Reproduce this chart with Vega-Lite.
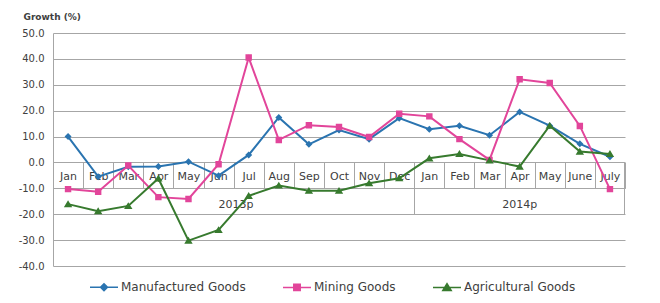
{
  "$schema": "https://vega.github.io/schema/vega-lite/v6.json",
  "width": 572,
  "height": 233,
  "autosize": "none",
  "padding": {"left": 53, "top": 33, "right": 35, "bottom": 37},
  "background": "white",
  "config": {
    "font": "DejaVu Sans",
    "view": {"stroke": null},
    "axis": {
      "labelFont": "DejaVu Sans",
      "labelColor": "#404040",
      "gridColor": "#a6a6a6",
      "domainColor": "#a6a6a6",
      "tickColor": "#a6a6a6"
    },
    "legend": {"labelFont": "DejaVu Sans"}
  },
  "data": {
    "values": [
      {"period": "2013-01", "series": "Manufactured Goods", "value": 10.0},
      {"period": "2013-02", "series": "Manufactured Goods", "value": -5.5},
      {"period": "2013-03", "series": "Manufactured Goods", "value": -1.7},
      {"period": "2013-04", "series": "Manufactured Goods", "value": -1.6},
      {"period": "2013-05", "series": "Manufactured Goods", "value": 0.3},
      {"period": "2013-06", "series": "Manufactured Goods", "value": -5.1},
      {"period": "2013-07", "series": "Manufactured Goods", "value": 2.9},
      {"period": "2013-08", "series": "Manufactured Goods", "value": 17.4},
      {"period": "2013-09", "series": "Manufactured Goods", "value": 7.0},
      {"period": "2013-10", "series": "Manufactured Goods", "value": 12.5},
      {"period": "2013-11", "series": "Manufactured Goods", "value": 9.0},
      {"period": "2013-12", "series": "Manufactured Goods", "value": 17.1},
      {"period": "2014-01", "series": "Manufactured Goods", "value": 12.8},
      {"period": "2014-02", "series": "Manufactured Goods", "value": 14.2},
      {"period": "2014-03", "series": "Manufactured Goods", "value": 10.5},
      {"period": "2014-04", "series": "Manufactured Goods", "value": 19.5},
      {"period": "2014-05", "series": "Manufactured Goods", "value": 14.2},
      {"period": "2014-06", "series": "Manufactured Goods", "value": 7.2},
      {"period": "2014-07", "series": "Manufactured Goods", "value": 2.2},
      {"period": "2013-01", "series": "Mining Goods", "value": -10.3},
      {"period": "2013-02", "series": "Mining Goods", "value": -11.3},
      {"period": "2013-03", "series": "Mining Goods", "value": -1.2},
      {"period": "2013-04", "series": "Mining Goods", "value": -13.4},
      {"period": "2013-05", "series": "Mining Goods", "value": -14.1},
      {"period": "2013-06", "series": "Mining Goods", "value": -0.7},
      {"period": "2013-07", "series": "Mining Goods", "value": 40.5},
      {"period": "2013-08", "series": "Mining Goods", "value": 8.7},
      {"period": "2013-09", "series": "Mining Goods", "value": 14.4},
      {"period": "2013-10", "series": "Mining Goods", "value": 13.7},
      {"period": "2013-11", "series": "Mining Goods", "value": 9.8},
      {"period": "2013-12", "series": "Mining Goods", "value": 18.8},
      {"period": "2014-01", "series": "Mining Goods", "value": 17.8},
      {"period": "2014-02", "series": "Mining Goods", "value": 9.0},
      {"period": "2014-03", "series": "Mining Goods", "value": 1.0},
      {"period": "2014-04", "series": "Mining Goods", "value": 32.1},
      {"period": "2014-05", "series": "Mining Goods", "value": 30.7},
      {"period": "2014-06", "series": "Mining Goods", "value": 14.1},
      {"period": "2014-07", "series": "Mining Goods", "value": -10.3},
      {"period": "2013-01", "series": "Agricultural Goods", "value": -16.1},
      {"period": "2013-02", "series": "Agricultural Goods", "value": -18.8},
      {"period": "2013-03", "series": "Agricultural Goods", "value": -16.8},
      {"period": "2013-04", "series": "Agricultural Goods", "value": -6.2},
      {"period": "2013-05", "series": "Agricultural Goods", "value": -30.2},
      {"period": "2013-06", "series": "Agricultural Goods", "value": -26.1},
      {"period": "2013-07", "series": "Agricultural Goods", "value": -12.9},
      {"period": "2013-08", "series": "Agricultural Goods", "value": -8.9},
      {"period": "2013-09", "series": "Agricultural Goods", "value": -10.9},
      {"period": "2013-10", "series": "Agricultural Goods", "value": -10.9},
      {"period": "2013-11", "series": "Agricultural Goods", "value": -8.0},
      {"period": "2013-12", "series": "Agricultural Goods", "value": -6.1},
      {"period": "2014-01", "series": "Agricultural Goods", "value": 1.6},
      {"period": "2014-02", "series": "Agricultural Goods", "value": 3.3},
      {"period": "2014-03", "series": "Agricultural Goods", "value": 0.8},
      {"period": "2014-04", "series": "Agricultural Goods", "value": -1.6},
      {"period": "2014-05", "series": "Agricultural Goods", "value": 14.2},
      {"period": "2014-06", "series": "Agricultural Goods", "value": 4.2},
      {"period": "2014-07", "series": "Agricultural Goods", "value": 3.3}
    ]
  },
  "encoding": {
    "y": {
      "field": "value",
      "type": "quantitative",
      "scale": {"domain": [-40, 50], "nice": false, "zero": false},
      "axis": {
        "values": [-40, -30, -20, -10, 0, 10, 20, 30, 40, 50],
        "format": ".1f",
        "labelExpr": "replace(datum.label, '\u2212', '-')",
        "ticks": false,
        "labelPadding": 9,
        "labelFontSize": 10,
        "grid": true,
        "domain": true,
        "title": "Growth (%)",
        "titleAngle": 0,
        "titleAlign": "left",
        "titleBaseline": "middle",
        "titleX": -30,
        "titleY": -17,
        "titleFontSize": 9,
        "titleFontWeight": "bold",
        "titleColor": "#404040",
        "titleFont": "DejaVu Sans"
      }
    },
    "color": {
      "field": "series",
      "type": "nominal",
      "scale": {"domain": ["Manufactured Goods", "Mining Goods", "Agricultural Goods"], "range": ["#2a74b0", "#e2459a", "#377a2e"]}
    }
  },
  "layer": [
    {
      "transform": [{"filter": "datum.series !== 'Agricultural Goods'"}],
      "mark": {"type": "line", "strokeWidth": 2},
      "encoding": {
        "x": {
          "field": "period",
          "type": "ordinal",
          "scale": {"type": "band", "paddingInner": 0, "paddingOuter": 0},
          "axis": {
            "orient": "bottom",
            "offset": -103.6,
            "domain": false,
            "grid": false,
            "ticks": true,
            "tickBand": "extent",
            "tickSize": 25.9,
            "labelPadding": -11.4,
            "labelExpr": "!isString(datum.value) ? '' : datum.value === '2014-06' ? 'June' : datum.value === '2014-07' ? 'July' : ['Jan','Feb','Mar','Apr','May','Jun','Jul','Aug','Sep','Oct','Nov','Dec'][toNumber(substring(datum.value, 5, 7)) - 1]",
            "labelFontSize": 11,
            "labelBaseline": "middle",
            "labelAngle": 0,
            "title": null
          }
        }
      }
    },
    {
      "transform": [{"filter": "datum.series === 'Agricultural Goods'"}],
      "mark": {"type": "line", "strokeWidth": 2},
      "encoding": {
        "x": {
          "field": "period",
          "type": "ordinal",
          "scale": {"type": "band", "paddingInner": 0, "paddingOuter": 0},
          "axis": {
            "orient": "bottom",
            "offset": -103.6,
            "domain": false,
            "grid": false,
            "ticks": true,
            "labels": false,
            "values": ["2013-12", "2014-07"],
            "bandPosition": 1,
            "tickSize": 51.8,
            "title": null
          }
        }
      }
    },
    {
      "mark": {"type": "point", "filled": true, "size": 784, "opacity": 1},
      "encoding": {
        "x": {
          "field": "period",
          "type": "ordinal",
          "scale": {"type": "band", "paddingInner": 0, "paddingOuter": 0},
          "axis": {
            "orient": "bottom",
            "offset": -103.6,
            "domain": false,
            "grid": false,
            "ticks": false,
            "values": ["2013-06", "2014-04"],
            "labelExpr": "datum.value === '2013-06' ? '2013p' : datum.value === '2014-04' ? '2014p' : ''",
            "labelAlign": {"condition": {"test": "datum.value === '2013-06'", "value": "left"}, "value": "center"},
            "labelPadding": 42.5,
            "labelBaseline": "middle",
            "labelFontSize": 11,
            "labelAngle": 0,
            "title": null
          }
        },
        "color": {
          "field": "series",
          "type": "nominal",
          "scale": {"domain": ["Manufactured Goods", "Mining Goods", "Agricultural Goods"], "range": ["#2a74b0", "#e2459a", "#377a2e"]},
          "legend": {
            "orient": "none",
            "legendX": 36,
            "legendY": 239,
            "direction": "horizontal",
            "title": null,
            "labelFontSize": 12,
            "labelColor": "#404040",
            "symbolSize": 784,
            "symbolStrokeWidth": 1.5,
            "columnPadding": 34,
            "labelOffset": 2,
            "padding": 0,
            "encode": {
              "symbols": {
                "stroke": {"condition": [{"test": "datum.value === 'Mining Goods'", "value": "#e2459a"}, {"test": "datum.value === 'Agricultural Goods'", "value": "#377a2e"}], "value": "#2a74b0"},
                "strokeWidth": {"value": 1.5}
              }
            }
          }
        },
        "shape": {
          "field": "series",
          "type": "nominal",
          "scale": {
            "domain": ["Manufactured Goods", "Mining Goods", "Agricultural Goods"],
            "range": [
              "M-1,0H1M0,-0.25L0.25,0L0,0.25L-0.25,0Z",
              "M-1,0H1M-0.23,-0.23H0.23V0.23H-0.23Z",
              "M-1,0H1M0,-0.27L0.3,0.22H-0.3Z"
            ]
          },
          "legend": {
            "orient": "none",
            "legendX": 36,
            "legendY": 239,
            "direction": "horizontal",
            "title": null,
            "labelFontSize": 12,
            "labelColor": "#404040",
            "symbolSize": 784,
            "symbolStrokeWidth": 1.5,
            "columnPadding": 34,
            "labelOffset": 2,
            "padding": 0,
            "encode": {
              "symbols": {
                "stroke": {"condition": [{"test": "datum.value === 'Mining Goods'", "value": "#e2459a"}, {"test": "datum.value === 'Agricultural Goods'", "value": "#377a2e"}], "value": "#2a74b0"},
                "strokeWidth": {"value": 1.5}
              }
            }
          }
        }
      }
    }
  ],
  "resolve": {"axis": {"x": "independent"}}
}
